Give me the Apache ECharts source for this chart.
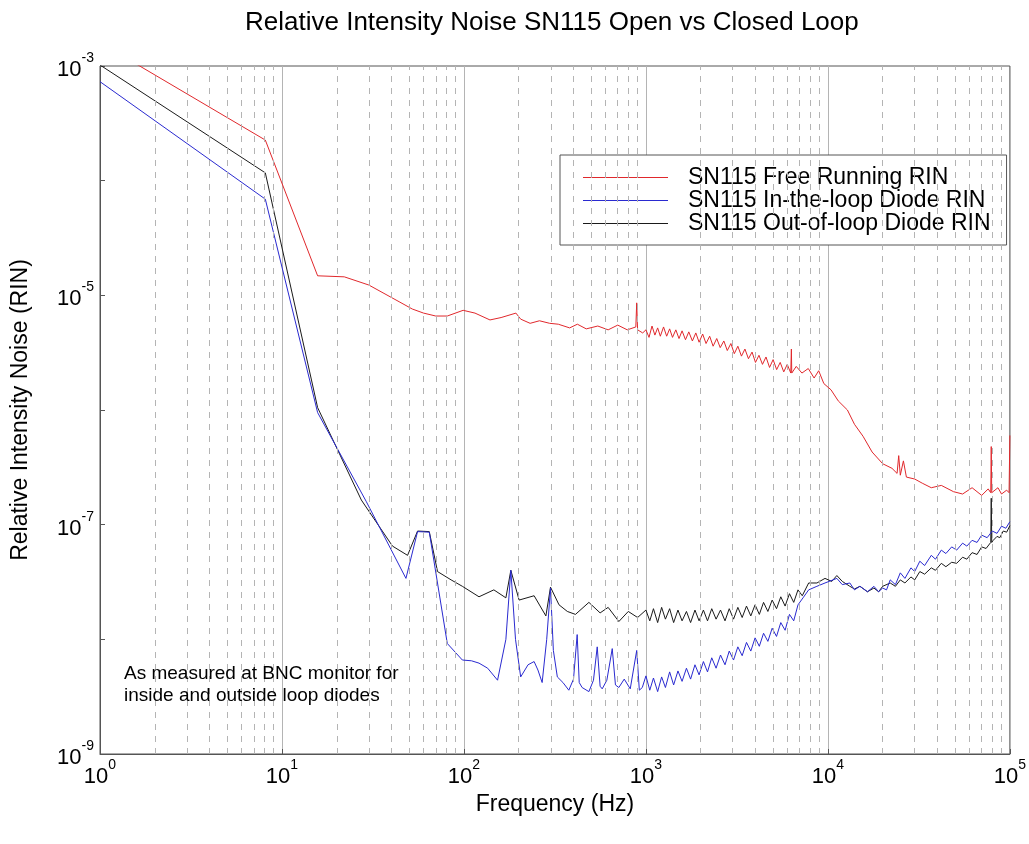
<!DOCTYPE html>
<html>
<head>
<meta charset="utf-8">
<script src="https://cdn.jsdelivr.net/npm/echarts@6.0.0/dist/echarts.min.js"></script>
<style>
  body { margin: 0; background: #fff; }
  #chart { width: 1029px; height: 844px; }
</style>
</head>
<body>
<div id="chart"></div>
<script>
// values (frequency in Hz, RIN)
var freeFreq = [1, 8.1, 15.7, 22, 30, 44, 52, 60, 70, 81, 99, 115, 139, 160, 193, 205, 231, 260, 296, 330, 381, 420, 470, 544, 620, 700, 790, 880, 890, 900, 960,
  1000, 1040, 1080, 1120, 1160, 1200, 1250, 1300, 1350, 1400, 1460, 1520, 1580, 1650, 1720, 1800, 1880, 1960, 2050, 2140, 2240, 2340, 2450, 2560, 2680, 2800, 2930, 3060,
  3200, 3350, 3500, 3660, 3830, 4000, 4180, 4370, 4570, 4780, 5000, 5230, 5470, 5720, 5980, 6250, 6300, 6330,
  6700, 7200, 7800, 8400, 8900, 9500, 10400, 11400, 12800, 14000, 15600, 17500, 20000, 22500, 24000, 24500, 25000, 26000, 27000, 30000, 33000, 37000, 42000, 49000,
  55000, 62000, 70000, 76000, 78500, 79000, 79500, 86000, 90000, 96000, 99000, 100000];
var freeRin = [1.6e-3, 2.26e-4, 1.48e-5, 1.45e-5, 1.23e-5, 8.8e-6, 7.6e-6, 7.0e-6, 6.6e-6, 6.6e-6, 7.4e-6, 7.0e-6, 6.1e-6, 6.4e-6, 7.0e-6, 6.2e-6, 5.7e-6, 6.0e-6, 5.7e-6, 5.6e-6, 5.2e-6, 5.6e-6, 5.1e-6, 5.4e-6, 5.0e-6, 5.5e-6, 5.0e-6, 5.3e-6, 8.6e-6, 5.0e-6, 4.7e-6,
  5.0e-6, 4.3e-6, 5.4e-6, 4.5e-6, 5.2e-6, 4.4e-6, 5.3e-6, 4.4e-6, 5.1e-6, 4.3e-6, 5.0e-6, 4.2e-6, 4.9e-6, 4.1e-6, 4.8e-6, 4.0e-6, 4.7e-6, 3.9e-6, 4.6e-6, 3.8e-6, 4.4e-6, 3.6e-6, 4.2e-6, 3.5e-6, 4.0e-6, 3.3e-6, 3.8e-6, 3.1e-6,
  3.6e-6, 2.95e-6, 3.4e-6, 2.8e-6, 3.2e-6, 2.6e-6, 3.0e-6, 2.5e-6, 2.9e-6, 2.35e-6, 2.75e-6, 2.25e-6, 2.6e-6, 2.15e-6, 2.5e-6, 2.1e-6, 3.4e-6, 2.1e-6,
  2.4e-6, 2.1e-6, 2.3e-6, 1.9e-6, 2.2e-6, 1.7e-6, 1.5e-6, 1.2e-6, 1.0e-6, 7.5e-7, 5.9e-7, 4.3e-7, 3.4e-7, 3.1e-7, 2.8e-7, 4.0e-7, 2.7e-7, 3.6e-7, 2.6e-7, 2.5e-7, 2.3e-7, 2.1e-7, 2.2e-7, 1.94e-7,
  1.85e-7, 2.1e-7, 1.8e-7, 2.05e-7, 1.9e-7, 4.8e-7, 1.9e-7, 2.1e-7, 1.85e-7, 2.0e-7, 1.9e-7, 6.0e-7];

var inFreq = [1, 8.1, 15.7, 29, 48, 55.6, 64.5, 81, 98, 110, 121, 135, 153, 170, 181, 192, 205, 225, 243, 255, 269, 285, 299, 310, 326, 350, 377, 400, 419, 430, 446, 486, 515, 540, 560, 575, 610, 653, 680, 710, 760, 820, 890, 920, 955,
  1000, 1050, 1100, 1160, 1220, 1280, 1350, 1420, 1500, 1580, 1670, 1760, 1860, 1960, 2070, 2180, 2300, 2430, 2570, 2720, 2870, 3030, 3200, 3380, 3570, 3770, 3980, 4200,
  4430, 4680, 4940, 5220, 5510, 5820, 6150, 6490, 6850, 7300, 7840, 8700, 9640,
  11200, 12000, 13200, 14000, 15000, 16500, 17900, 19000, 20000, 21000, 22000, 23500, 25000, 26500, 28600, 30000, 32000, 34000, 37000, 39000, 42000, 44500, 47900,
  51000, 55000, 58000, 62000, 66000, 70000, 75000, 80000, 85000, 90000, 95000, 100000];
var inRin = [7.3e-4, 6.9e-5, 9.5e-7, 1.6e-7, 3.4e-8, 8.7e-8, 8.6e-8, 9.2e-9, 6.6e-9, 6.5e-9, 6.2e-9, 5.6e-9, 4.4e-9, 1.0e-8, 4.0e-8, 1.0e-8, 4.7e-9, 6.0e-9, 6.4e-9, 5.4e-9, 4.2e-9, 1.0e-8, 2.8e-8, 8e-9, 4.7e-9, 4.2e-9, 3.6e-9, 4.5e-9, 1.1e-8, 4.2e-9, 3.8e-9, 3.5e-9, 4.4e-9, 8.6e-9, 3.9e-9, 3.7e-9, 4.4e-9, 8.3e-9, 4.0e-9, 3.8e-9, 4.5e-9, 3.7e-9, 8e-9, 3.6e-9, 3.8e-9,
  4.8e-9, 3.6e-9, 4.6e-9, 3.5e-9, 4.7e-9, 3.8e-9, 5.2e-9, 4.0e-9, 5.3e-9, 4.3e-9, 5.6e-9, 4.5e-9, 6.0e-9, 4.9e-9, 6.4e-9, 5.2e-9, 6.9e-9, 5.6e-9, 7.3e-9, 6.0e-9, 7.9e-9, 6.6e-9, 8.6e-9, 7.2e-9, 9.4e-9, 7.9e-9, 1.03e-8, 8.7e-9,
  1.13e-8, 9.6e-9, 1.25e-8, 1.06e-8, 1.4e-8, 1.2e-8, 1.65e-8, 1.45e-8, 2.0e-8, 2.3e-8, 2.7e-8, 2.9e-8, 3.1e-8,
  3.4e-8, 3.0e-8, 3.1e-8, 2.7e-8, 2.9e-8, 2.6e-8, 2.9e-8, 2.6e-8, 2.8e-8, 2.7e-8, 3.3e-8, 3.0e-8, 3.8e-8, 3.4e-8, 4.2e-8, 3.9e-8, 4.8e-8, 4.4e-8, 5.4e-8, 5.0e-8, 6.0e-8, 5.6e-8, 6.4e-8,
  6.0e-8, 6.9e-8, 6.5e-8, 7.3e-8, 7.0e-8, 8.1e-8, 7.7e-8, 8.8e-8, 8.4e-8, 9.7e-8, 9.3e-8, 1.06e-7];

var outFreq = [1, 8.1, 15.7, 27.3, 40.5, 49, 55.6, 64.5, 71.6, 85, 98, 121, 146, 170, 181, 201, 243, 282, 299, 333, 370, 410, 486, 560, 620, 710, 800, 900,
  1000, 1050, 1100, 1160, 1220, 1280, 1350, 1420, 1500, 1580, 1670, 1760, 1860, 1960, 2070, 2180, 2300, 2430, 2570, 2720, 2870, 3030, 3200, 3380, 3570, 3770, 3980, 4200,
  4430, 4680, 4940, 5220, 5510, 5820, 6150, 6490, 6850, 7230, 7840, 8700, 9640, 10500, 11200, 12000,
  13200, 14000, 15000, 16500, 17900, 19000, 20000, 22000, 23500, 25000, 26500, 28600, 30000, 32000, 34000, 37000, 39000, 42000, 44500, 47900, 51000, 55000, 58000,
  62000, 66000, 70000, 74000, 78500, 79000, 79500, 81000, 85000, 88000, 92000, 96000, 100000];
var outRin = [1.02e-3, 1.17e-4, 1.05e-6, 1.64e-7, 6.5e-8, 5.4e-8, 8.8e-8, 8.7e-8, 3.9e-8, 3.3e-8, 2.9e-8, 2.35e-8, 2.7e-8, 2.3e-8, 4.0e-8, 2.2e-8, 2.4e-8, 1.6e-8, 2.85e-8, 2.0e-8, 1.75e-8, 1.65e-8, 2.1e-8, 1.7e-8, 1.9e-8, 1.43e-8, 1.75e-8, 1.55e-8,
  1.8e-8, 1.45e-8, 1.85e-8, 1.4e-8, 1.9e-8, 1.5e-8, 1.85e-8, 1.4e-8, 1.8e-8, 1.45e-8, 1.75e-8, 1.4e-8, 1.8e-8, 1.45e-8, 1.8e-8, 1.45e-8, 1.85e-8, 1.5e-8, 1.8e-8, 1.45e-8, 1.85e-8, 1.5e-8, 1.9e-8, 1.55e-8, 1.95e-8, 1.6e-8, 2.0e-8, 1.65e-8,
  2.1e-8, 1.75e-8, 2.2e-8, 1.85e-8, 2.35e-8, 1.95e-8, 2.5e-8, 2.1e-8, 2.7e-8, 2.4e-8, 3.1e-8, 3.1e-8, 3.4e-8, 3.2e-8, 3.6e-8, 3.2e-8,
  2.9e-8, 2.75e-8, 2.9e-8, 2.6e-8, 2.8e-8, 2.6e-8, 2.9e-8, 3.1e-8, 2.9e-8, 3.3e-8, 3.1e-8, 3.5e-8, 3.3e-8, 3.9e-8, 3.7e-8, 4.2e-8, 4.0e-8, 4.6e-8, 4.3e-8, 4.7e-8, 4.6e-8, 5.2e-8, 5.0e-8,
  5.7e-8, 5.5e-8, 6.4e-8, 6.2e-8, 7.0e-8, 1.7e-7, 7.0e-8, 7.3e-8, 7.9e-8, 7.7e-8, 8.8e-8, 8.6e-8, 9.8e-8];

var seriesNames = ['SN115 Free Running RIN', 'SN115 In-the-loop Diode RIN', 'SN115 Out-of-loop Diode RIN'];

function zip(xs, ys) {
  var out = [];
  for (var i = 0; i < xs.length; i++) out.push([xs[i], ys[i]]);
  return out;
}

// dashed minor grid lines at 2..9 x 10^n
var minorLines = [];
for (var d = 1; d < 1e5; d *= 10) {
  for (var k = 2; k <= 9; k++) minorLines.push({ xAxis: k * d });
}
minorLines.push({ yAxis: 1e-5 });
minorLines.push({ yAxis: 1e-7 });

var font = 'Arial, "Liberation Sans", Helvetica, sans-serif';
function powLabel(v) {
  var e = Math.round(Math.log10(v));
  return '{b|10}{s|' + e + '}';
}
var labelRich = {
  b: { fontSize: 22, fontFamily: font, color: '#000', lineHeight: 30, verticalAlign: 'bottom' },
  s: { fontSize: 14, fontFamily: font, color: '#000', lineHeight: 14, verticalAlign: 'top' }
};

var myChart = echarts.init(document.getElementById('chart'));
var option = {
  animation: false,
  backgroundColor: '#fff',
  title: {
    text: 'Relative Intensity Noise SN115 Open vs Closed Loop',
    left: 240,
    top: 5,
    textStyle: { fontSize: 26, fontWeight: 'normal', color: '#000', fontFamily: font }
  },
  grid: {
    left: 100, right: 17, top: 66, bottom: 90,
    show: true, borderColor: '#555', borderWidth: 1
  },
  legend: {
    orient: 'vertical',
    left: 560, top: 155,
    data: seriesNames,
    icon: 'rect',
    itemWidth: 85, itemHeight: 1,
    itemGap: 0,
    padding: [11, 16, 10, 23],
    borderColor: '#555', borderWidth: 1,
    backgroundColor: '#fff',
    textStyle: { fontSize: 23, fontFamily: font, color: '#000', lineHeight: 22, padding: [0, 0, 0, 15] }
  },
  xAxis: {
    type: 'log', logBase: 10, min: 1, max: 1e5,
    name: 'Frequency (Hz)', nameLocation: 'middle', nameGap: 34,
    nameTextStyle: { fontSize: 23, fontFamily: font, color: '#000' },
    axisLine: { lineStyle: { color: '#555' } },
    axisTick: { inside: true, length: 5, lineStyle: { color: '#555' } },
    axisLabel: { formatter: powLabel, rich: labelRich, margin: 4 },
    splitLine: { show: true, lineStyle: { color: '#b4b4b4', width: 1 } }
  },
  yAxis: {
    type: 'log', logBase: 10, min: 1e-9, max: 1e-3,
    name: 'Relative Intensity Noise (RIN)', nameLocation: 'middle', nameGap: 68,
    nameTextStyle: { fontSize: 23, fontFamily: font, color: '#000' },
    axisLine: { lineStyle: { color: '#555' } },
    axisTick: { inside: true, length: 5, lineStyle: { color: '#555' } },
    axisLabel: {
      margin: 6,
      formatter: function (v) {
        var e = Math.round(Math.log10(v));
        return (e % 2 !== 0) ? powLabel(v) : '';
      },
      rich: labelRich
    },
    splitLine: { show: false }
  },
  graphic: [{
    type: 'text', left: 124, top: 663, z: 10,
    style: {
      text: 'As measured at BNC monitor for\ninside and outside loop diodes',
      fontSize: 19, fontFamily: font, fill: '#000', lineHeight: 22
    }
  }],
  series: [
    {
      type: 'line', data: [], z: 1, silent: true,
      markLine: {
        silent: true, symbol: 'none', label: { show: false },
        lineStyle: { color: '#b4b4b4', type: [6, 6], width: 1 },
        data: minorLines
      }
    },
    {
      name: seriesNames[0], type: 'line', data: zip(freeFreq, freeRin),
      showSymbol: false, color: '#e0282c', lineStyle: { width: 1 }
    },
    {
      name: seriesNames[2], type: 'line', data: zip(outFreq, outRin),
      showSymbol: false, color: '#1a1a1a', lineStyle: { width: 1 }
    },
    {
      name: seriesNames[1], type: 'line', data: zip(inFreq, inRin),
      showSymbol: false, color: '#2a2ad0', lineStyle: { width: 1 }
    }
  ]
};
myChart.setOption(option);
</script>
</body>
</html>
